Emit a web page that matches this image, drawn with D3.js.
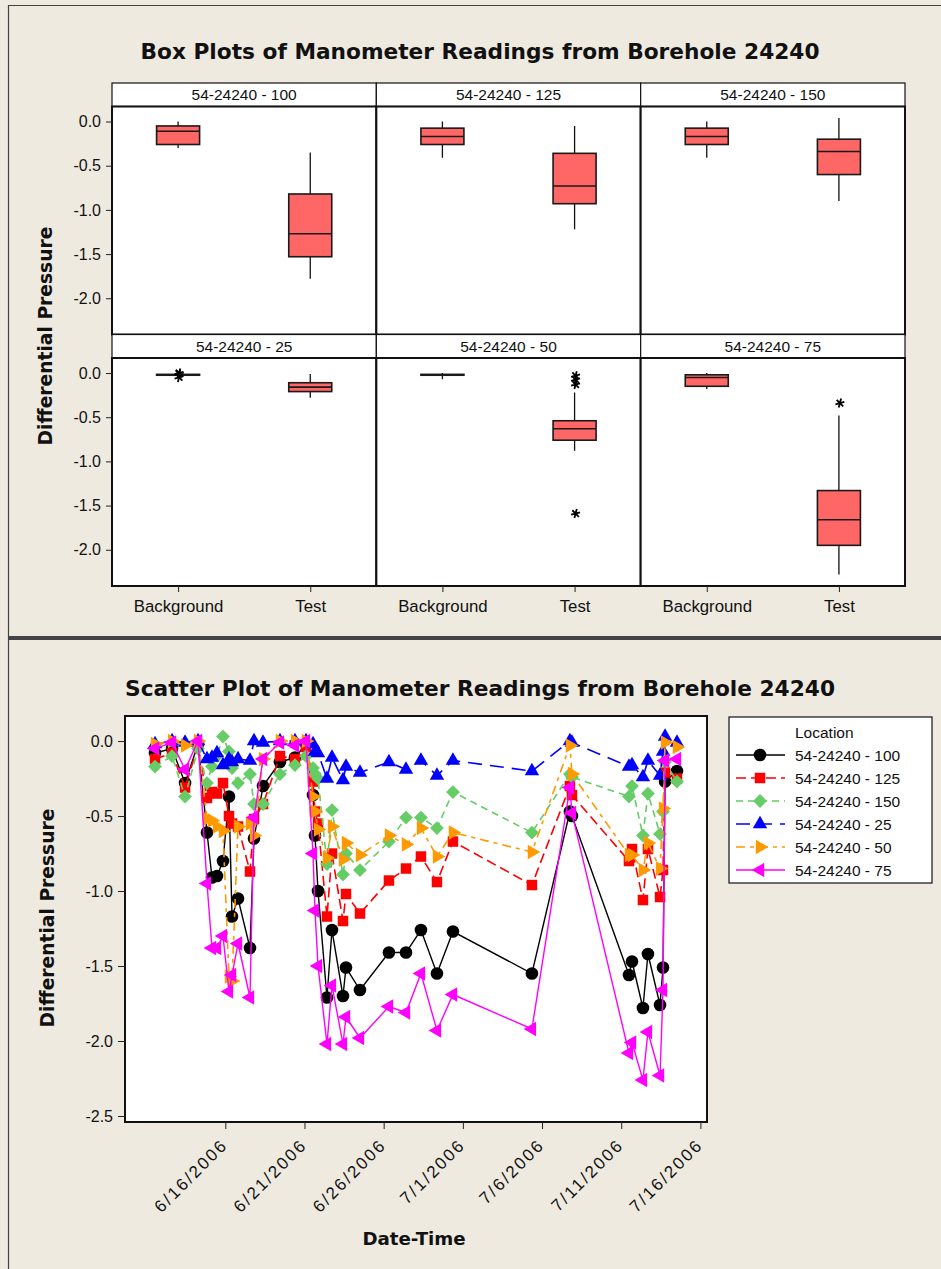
<!DOCTYPE html>
<html lang="en">

<head>
  <meta charset="UTF-8" />
  <title>Manometer readings - Borehole 24240</title>
  <style>
    body {
      margin: 0;
      background: #eeeae0;
    }

    svg text {
      font-family: "Liberation Sans", Arial, sans-serif;
      fill: #111;
    }

    svg text.bold {
      font-family: "DejaVu Sans", Verdana, sans-serif;
      font-weight: bold;
    }

    .axis path,
    .axis line {
      stroke: #222;
    }
  </style>
</head>

<body>
  <div id="container"></div>
  <script src="https://cdn.jsdelivr.net/npm/d3@7"></script>
  <script>
    // ---- box plot data (one entry per location, [Background, Test]) ----
    const locations = ["54-24240 - 100", "54-24240 - 125", "54-24240 - 150",
      "54-24240 - 25", "54-24240 - 50", "54-24240 - 75"];
    const groups = ["Background", "Test"];
    const whiskerHigh = [[0.0, -0.35], [0.0, -0.05], [0.0, 0.04], [-0.015, -0.01], [0.0, -0.22], [0.0, -0.48]];
    const q3 = [[-0.05, -0.82], [-0.075, -0.36], [-0.075, -0.20], [-0.015, -0.11], [-0.015, -0.54], [-0.02, -1.33]];
    const medians = [[-0.11, -1.27], [-0.17, -0.73], [-0.17, -0.34], [-0.02, -0.16], [-0.02, -0.63], [-0.05, -1.66]];
    const q1 = [[-0.26, -1.53], [-0.26, -0.93], [-0.26, -0.60], [-0.025, -0.21], [-0.025, -0.76], [-0.15, -1.95]];
    const whiskerLow = [[-0.30, -1.78], [-0.41, -1.22], [-0.41, -0.90], [-0.025, -0.28], [-0.07, -0.88], [-0.18, -2.28]];
    const outliers = [[[], []], [[], []], [[], []], [[0.0, -0.01, -0.05], []],
      [[], [-0.03, -0.075, -0.13, -1.59]], [[], [-0.34]]];
    const boxTicks = [0, -0.5, -1.0, -1.5, -2.0];

    // ---- scatter data ----
    const times = [
      "2006-06-11 13:30", "2006-06-12 15:15", "2006-06-13 11:00", "2006-06-14 06:40", "2006-06-14 20:15",
      "2006-06-15 03:50", "2006-06-15 11:25", "2006-06-15 20:30", "2006-06-16 05:35", "2006-06-16 10:10",
      "2006-06-16 19:15", "2006-06-17 13:25", "2006-06-17 19:30", "2006-06-18 09:10", "2006-06-19 10:50",
      "2006-06-20 09:35", "2006-06-21 02:15", "2006-06-21 12:55", "2006-06-21 15:55", "2006-06-21 20:30",
      "2006-06-22 10:05", "2006-06-22 17:40", "2006-06-23 10:20", "2006-06-23 14:55", "2006-06-24 12:05",
      "2006-06-26 08:00", "2006-06-27 09:50", "2006-06-28 08:30", "2006-06-29 08:45", "2006-06-30 09:00",
      "2006-07-05 08:40", "2006-07-07 18:15", "2006-07-07 21:20", "2006-07-11 11:45", "2006-07-11 16:20",
      "2006-07-12 08:55", "2006-07-12 16:30", "2006-07-13 10:50", "2006-07-13 15:20", "2006-07-13 18:25",
      "2006-07-14 12:30"];
    const loc100 = [-0.08, -0.05, -0.28, -0.02, -0.61, -0.91, -0.90, -0.80, -0.37, -1.17, -1.05, -1.38, -0.65, -0.30, -0.14,
      -0.11, -0.02, -0.36, -0.63, -1.00, -1.71, -1.26, -1.70, -1.51, -1.66, -1.41, -1.41, -1.26, -1.55, -1.27,
      -1.55, -0.47, -0.50, -1.56, -1.47, -1.78, -1.42, -1.76, -1.51, -0.27, -0.20];
    const loc125 = [-0.12, -0.08, -0.31, -0.03, -0.38, -0.34, -0.35, -0.28, -0.50, -0.55, -0.57, -0.87, -0.52, -0.42, -0.10,
      -0.12, -0.04, -0.27, -0.47, -0.55, -1.17, -0.75, -1.20, -1.02, -1.15, -0.93, -0.85, -0.77, -0.94, -0.67,
      -0.96, -0.30, -0.36, -0.80, -0.72, -1.06, -0.72, -1.04, -0.86, -0.21, -0.25];
    const loc150 = [-0.17, -0.10, -0.37, -0.05, -0.28, -0.17, -0.10, 0.03, -0.07, -0.18, -0.28, -0.22, -0.42, -0.42, -0.22,
      -0.16, -0.10, -0.18, -0.22, -0.25, -0.82, -0.46, -0.89, -0.75, -0.86, -0.67, -0.51, -0.51, -0.58, -0.34,
      -0.61, -0.22, -0.24, -0.37, -0.30, -0.63, -0.35, -0.62, -0.47, -0.14, -0.27];
    const loc25 = [-0.02, 0.00, -0.01, 0.00, -0.12, -0.11, -0.08, -0.16, -0.12, -0.14, -0.12, -0.13, 0.00, -0.01, 0.00,
      0.00, 0.00, -0.02, -0.07, -0.08, -0.25, -0.11, -0.26, -0.17, -0.21, -0.14, -0.19, -0.13, -0.23, -0.13,
      -0.20, 0.00, -0.01, -0.17, -0.16, -0.24, -0.13, -0.23, -0.07, 0.03, -0.01];
    const loc50 = [-0.02, 0.00, -0.03, 0.00, -0.52, -0.53, -0.57, -0.60, -1.57, -1.60, -0.57, -0.55, -0.63, -0.12, 0.00,
      0.00, 0.00, -0.37, -0.47, -0.59, -0.78, -0.57, -0.79, -0.68, -0.76, -0.63, -0.69, -0.58, -0.77, -0.61,
      -0.74, -0.03, -0.22, -0.76, -0.76, -0.86, -0.68, -0.85, -0.45, -0.01, -0.04];
    const loc75 = [-0.05, -0.01, -0.19, 0.00, -0.95, -1.38, -1.38, -1.30, -1.67, -1.56, -1.35, -1.71, -0.51, -0.12, -0.01,
      -0.03, 0.00, -0.75, -1.13, -1.50, -2.02, -1.63, -2.02, -1.84, -1.98, -1.77, -1.81, -1.55, -1.93, -1.69,
      -1.92, -0.31, -0.48, -2.08, -2.01, -2.26, -1.94, -2.23, -1.66, -0.13, -0.12];
    const scatterTicks = [0, -0.5, -1.0, -1.5, -2.0, -2.5];
    const dateTicks = ["2006-06-16", "2006-06-21", "2006-06-26", "2006-07-01", "2006-07-06", "2006-07-11", "2006-07-16"];

    const seriesValues = [loc100, loc125, loc150, loc25, loc50, loc75];
    const colors = ["#000000", "#ff0000", "#66cc66", "#0000ff", "#ff9900", "#ff00ff"];
    const dashes = [null, "10,5", "7,5", "14,8", "9,5,4,5", null];
    const shapes = [
      { type: d3.symbolCircle, size: 125, rot: 0 },
      { type: d3.symbolSquare, size: 110, rot: 0 },
      { type: d3.symbolSquare, size: 95, rot: 45 },
      { type: d3.symbolTriangle, size: 90, rot: 0 },
      { type: d3.symbolTriangle, size: 90, rot: 90 },
      { type: d3.symbolTriangle, size: 90, rot: -90 }
    ];

    const W = 941, H = 1269;
    const fmt = d => d.toFixed(1);

    const svg = d3.select("#container").append("svg")
      .attr("width", W).attr("height", H);

    // page frame
    svg.append("rect").attr("x", 0).attr("y", 0).attr("width", W).attr("height", H).attr("fill", "#eeeae0");
    svg.append("path").attr("d", `M8.5,${H} V5.5 H${W}`).attr("fill", "none").attr("stroke", "#444").attr("stroke-width", 1.2);
    svg.append("rect").attr("x", 8).attr("y", 636).attr("width", W - 8).attr("height", 4).attr("fill", "#444");

    // ================= box plots =================
    const grid = { left: 112, right: 905, top: 83 };
    const stripH = 23.5, plotH = 228;
    const colW = (grid.right - grid.left) / 3;

    svg.append("text").attr("class", "bold")
      .attr("x", 480).attr("y", 59)
      .attr("text-anchor", "middle")
      .attr("font-size", 21.7)
      .text("Box Plots of Manometer Readings from Borehole 24240");

    locations.forEach((loc, i) => {
      const row = Math.floor(i / 3), col = i % 3;
      const x0 = grid.left + col * colW;
      const top = grid.top + row * (stripH + plotH);
      const pTop = top + stripH, pBot = pTop + plotH;

      const y = d3.scaleLinear().domain([-2.41, 0.17]).range([pBot, pTop]);
      const x = d3.scalePoint().domain(groups).range([x0, x0 + colW]).padding(0.5);

      const g = svg.append("g");
      g.append("rect").attr("x", x0).attr("y", top).attr("width", colW).attr("height", stripH)
        .attr("fill", "#fff").attr("stroke", "#111").attr("stroke-width", 1.2);
      g.append("text").attr("x", x0 + colW / 2).attr("y", top + stripH / 2 + 5.5)
        .attr("text-anchor", "middle").attr("font-size", 15.5).text(loc);
      g.append("rect").attr("x", x0).attr("y", pTop).attr("width", colW).attr("height", plotH)
        .attr("fill", "#fff").attr("stroke", "#111").attr("stroke-width", 2);

      if (col === 0) {
        svg.append("g").attr("class", "axis")
          .attr("transform", `translate(${x0},0)`)
          .call(d3.axisLeft(y).tickValues(boxTicks).tickFormat(fmt).tickSize(6).tickPadding(5))
          .call(a => a.select(".domain").remove())
          .call(a => a.selectAll("text").attr("font-size", 16).attr("fill", "#222"));
      }
      if (row === 1) {
        svg.append("g").attr("class", "axis")
          .attr("transform", `translate(0,${pBot})`)
          .call(d3.axisBottom(x).tickSize(6).tickPadding(8))
          .call(a => a.select(".domain").remove())
          .call(a => a.selectAll("text").attr("font-size", 16.8).attr("fill", "#222"));
      }

      const bw = 43;
      groups.forEach((grp, j) => {
        const cx = x(grp);
        g.append("line").attr("x1", cx).attr("x2", cx)
          .attr("y1", y(whiskerHigh[i][j])).attr("y2", y(whiskerLow[i][j]))
          .attr("stroke", "#111").attr("stroke-width", 1.3);
        g.append("rect").attr("x", cx - bw / 2).attr("width", bw)
          .attr("y", y(q3[i][j])).attr("height", Math.max(0.8, y(q1[i][j]) - y(q3[i][j])))
          .attr("fill", "#ff6666").attr("stroke", "#1a1a1a").attr("stroke-width", 1.6);
        g.append("line").attr("x1", cx - bw / 2).attr("x2", cx + bw / 2)
          .attr("y1", y(medians[i][j])).attr("y2", y(medians[i][j]))
          .attr("stroke", "#1a1a1a").attr("stroke-width", 1.6);
        g.selectAll(null).data(outliers[i][j]).enter().append("path")
          .attr("transform", d => `translate(${cx + 1},${y(d)}) rotate(15)`)
          .attr("d", d3.symbol(d3.symbolAsterisk, 60))
          .attr("fill", "none").attr("stroke", "#000").attr("stroke-width", 1.8);
      });
    });

    svg.append("text").attr("class", "bold")
      .attr("transform", "translate(52,336) rotate(-90)")
      .attr("text-anchor", "middle")
      .attr("font-size", 18.7)
      .text("Differential Pressure");

    // ================= scatter plot =================
    const parseTime = d3.timeParse("%Y-%m-%d %H:%M");
    const parseDay = d3.timeParse("%Y-%m-%d");
    const dates = times.map(parseTime);
    const sp = { left: 125, right: 707, top: 716, bottom: 1122 };

    const xs = d3.scaleTime()
      .domain([parseTime("2006-06-09 16:00"), parseTime("2006-07-16 10:00")])
      .range([sp.left, sp.right]);
    const ys = d3.scaleLinear().domain([-2.54, 0.167]).range([sp.bottom, sp.top]);

    svg.append("text").attr("class", "bold")
      .attr("x", 480).attr("y", 696)
      .attr("text-anchor", "middle")
      .attr("font-size", 21.7)
      .text("Scatter Plot of Manometer Readings from Borehole 24240");

    svg.append("rect").attr("x", sp.left).attr("y", sp.top)
      .attr("width", sp.right - sp.left).attr("height", sp.bottom - sp.top)
      .attr("fill", "#fff").attr("stroke", "#111").attr("stroke-width", 2);

    svg.append("g").attr("class", "axis")
      .attr("transform", `translate(${sp.left},0)`)
      .call(d3.axisLeft(ys).tickValues(scatterTicks).tickFormat(fmt).tickSize(7).tickPadding(5))
      .call(a => a.select(".domain").remove())
      .call(a => a.selectAll("text").attr("font-size", 16).attr("fill", "#222"));

    svg.append("g").attr("class", "axis")
      .attr("transform", `translate(0,${sp.bottom})`)
      .call(d3.axisBottom(xs).tickValues(dateTicks.map(parseDay))
        .tickFormat(d3.timeFormat("%-m/%-d/%Y")).tickSize(7))
      .call(a => a.select(".domain").remove())
      .call(a => a.selectAll("text")
        .attr("font-size", 17).attr("fill", "#222")
        .attr("letter-spacing", 2.2)
        .attr("text-anchor", "end")
        .attr("y", 0).attr("dy", null)
        .attr("transform", "translate(3,24) rotate(-45)"));

    const lineGen = d3.line().x(d => xs(d[0])).y(d => ys(d[1]));
    const plot = svg.append("g");
    seriesValues.forEach((vals, s) => {
      const pts = vals.map((v, k) => [dates[k], v]);
      plot.append("path").datum(pts)
        .attr("d", lineGen)
        .attr("fill", "none")
        .attr("stroke", colors[s])
        .attr("stroke-width", s === 0 || s === 5 ? 1.4 : 1.6)
        .attr("stroke-dasharray", dashes[s]);
      plot.selectAll(null).data(pts).enter().append("path")
        .attr("transform", d => `translate(${xs(d[0])},${ys(d[1])}) rotate(${shapes[s].rot})`)
        .attr("d", d3.symbol(shapes[s].type, shapes[s].size))
        .attr("fill", colors[s]);
    });

    svg.append("text").attr("class", "bold")
      .attr("x", 414).attr("y", 1245)
      .attr("text-anchor", "middle")
      .attr("font-size", 18.2)
      .text("Date-Time");

    svg.append("text").attr("class", "bold")
      .attr("transform", "translate(54,918) rotate(-90)")
      .attr("text-anchor", "middle")
      .attr("font-size", 18.7)
      .text("Differential Pressure");

    // legend
    const lg = svg.append("g").attr("transform", "translate(729,717)");
    lg.append("rect").attr("width", 203).attr("height", 166)
      .attr("fill", "#fff").attr("stroke", "#111").attr("stroke-width", 1.2);
    lg.append("text").attr("x", 66).attr("y", 21).attr("font-size", 15.5).text("Location");
    locations.forEach((loc, s) => {
      const ly = 38 + s * 23;
      lg.append("line").attr("x1", 7).attr("x2", 56).attr("y1", ly).attr("y2", ly)
        .attr("stroke", colors[s]).attr("stroke-width", 1.6).attr("stroke-dasharray", dashes[s]);
      lg.append("path")
        .attr("transform", `translate(31,${ly}) rotate(${shapes[s].rot})`)
        .attr("d", d3.symbol(shapes[s].type, shapes[s].size))
        .attr("fill", colors[s]);
      lg.append("text").attr("x", 66).attr("y", ly + 5.5).attr("font-size", 15.5).text(loc);
    });
  </script>
</body>

</html>
